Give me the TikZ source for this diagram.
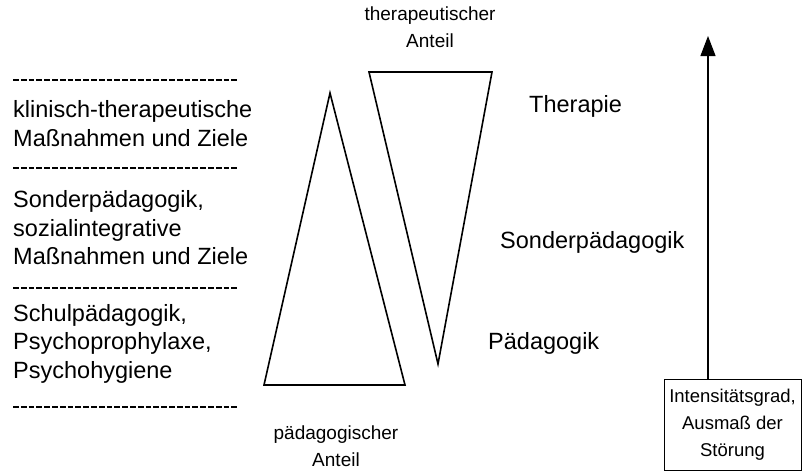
\documentclass[tikz,border=0pt]{standalone}
\usepackage{fontspec}
\setmainfont{Liberation Sans}
\usetikzlibrary{arrows.meta}
\begin{document}
\begin{tikzpicture}[x = 1pt, y = -1pt,
        big/.style = {font = \fontsize{23.5}{28.5}\selectfont, inner sep = 0pt},
        small/.style = {font = \fontsize{19}{27}\selectfont, inner sep = 0pt, align = center},
        sep/.style = {line width = 1.3pt, dash pattern = on 5.8pt off 2pt},
        tri/.style = {line width = 1.6pt, line join = miter}]
            \useasboundingbox (0,0) rectangle (804,472);
            % separators and fields on the left
            \begin{scope}[sep]
                \draw (13,80) -- (237,80);
                \draw (13,168) -- (237,168);
                \draw (13,288) -- (237,288);
                \draw (13,407) -- (237,407);
            \end{scope}
            \node[big, anchor = west, align = left] (klin) at (13,123.5) {klinisch-therapeutische\\Maßnahmen und Ziele};
            \node[big, anchor = west, align = left] (sond) at (13,228) {Sonderpädagogik,\\sozialintegrative\\Maßnahmen und Ziele};
            \node[big, anchor = west, align = left] (schul) at (13,343.5) {Schulpädagogik,\\Psychoprophylaxe,\\Psychohygiene};
            % the two triangles
            \begin{scope}[tri]
                \draw (330,93) -- (405,385) -- (264,385) -- cycle;
                \draw (369,72) -- (492,72) -- (438,364) -- cycle;
            \end{scope}
            \node[small] (ther) at (430,27) {therapeutischer\\Anteil};
            \node[small] (paed) at (336,446) {pädagogischer\\Anteil};
            % levels
            \node[big, anchor = west] (l1) at (529,106) {Therapie};
            \node[big, anchor = west] (l2) at (500,242) {Sonderpädagogik};
            \node[big, anchor = west] (l3) at (488,343) {Pädagogik};
            % intensity
            \node[small, font = \fontsize{18.5}{27}\selectfont, draw, line width = 0.9pt, minimum width = 137pt, minimum height = 91pt] (box) at (732.5,424.5) {Intensitätsgrad,\\Ausmaß der\\Störung};
            \coordinate (top) at (708,36);
            \draw[line width = 1.1pt, -{Triangle[width = 15pt, length = 20pt]}] (box.north -| top) -- (top);
        \end{tikzpicture}
\end{document}
